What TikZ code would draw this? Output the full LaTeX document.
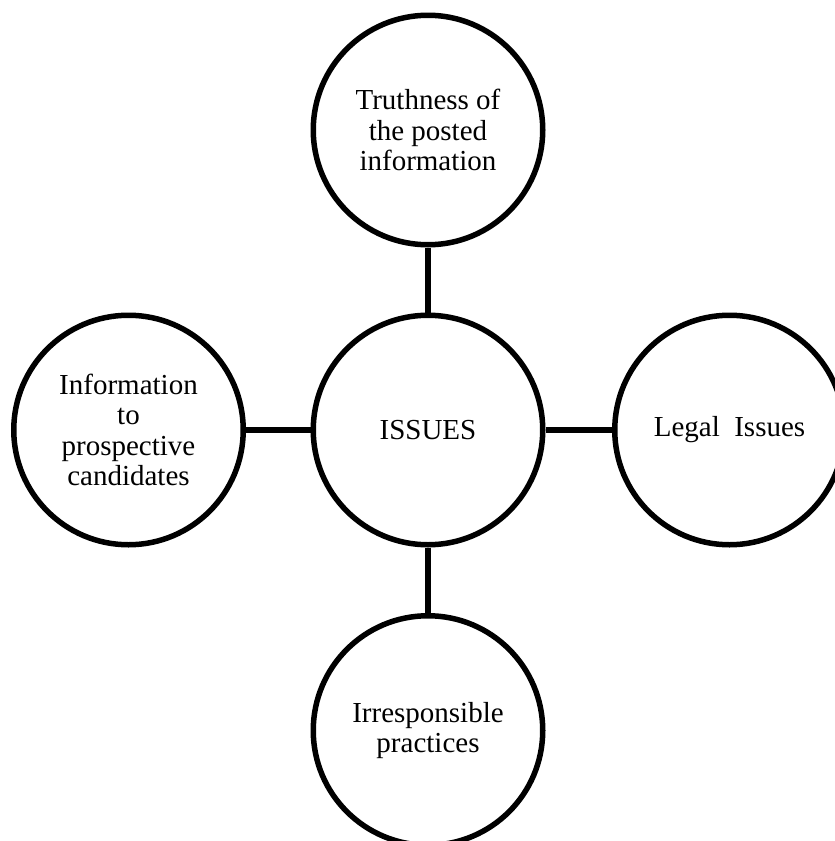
\documentclass[tikz,border=0pt]{standalone}
\usepackage{fontspec}
\setmainfont{Liberation Serif}
\begin{document}
\begin{tikzpicture}[x=1pt,y=-1pt,
  bubble/.style={circle,draw=black,line width=5.5pt,minimum size=229.5pt,inner sep=0pt,
    align=center,font=\fontsize{29}{30.5}\selectfont,text=black},
  link/.style={draw=black,line width=5.5pt}]
\useasboundingbox (0,0) rectangle (835,841);
\clip (0,0) rectangle (835,841);
\node[bubble] (c) at (428,430) {ISSUES};
\node[bubble] (t) at (428,130) {Truthness of\\the posted\\information};
\node[bubble] (l) at (128.5,430) {Information\\to\\prospective\\candidates};
\node[bubble] (r) at (729.5,430) {Legal~~Issues};
\node[bubble] (b) at (428,730.5) {Irresponsible\\practices};
\draw[link] (c) -- (t);
\draw[link] (c) -- (l);
\draw[link] (c) -- (r);
\draw[link] (c) -- (b);
\end{tikzpicture}
\end{document}
